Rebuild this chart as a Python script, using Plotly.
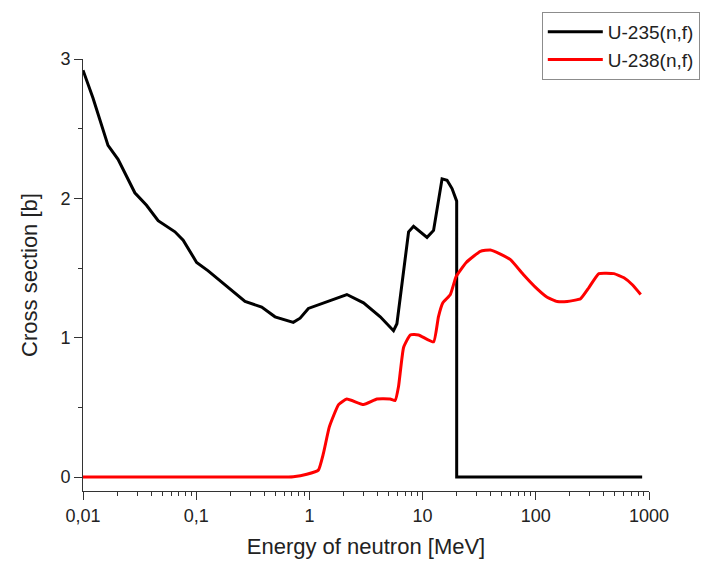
import plotly.graph_objects as go

# U-235 (n,f) cross section
energy_u235 = [0.01, 0.01225, 0.01663, 0.0204, 0.0287, 0.0364, 0.0461, 0.0649, 0.0767,
               0.1009, 0.1276, 0.1622, 0.2123, 0.270, 0.379, 0.497, 0.721, 0.828, 0.979,
               1.426, 2.143, 3.006, 4.227, 5.534, 5.93, 7.52, 8.32, 10.94, 12.50, 14.86,
               16.44, 18.20, 20, 20, 870]
sigma_u235 = [2.92, 2.72, 2.38, 2.28, 2.04, 1.95, 1.84, 1.76, 1.70,
              1.54, 1.48, 1.41, 1.33, 1.26, 1.22, 1.15, 1.11, 1.14, 1.21,
              1.26, 1.31, 1.25, 1.15, 1.05, 1.10, 1.76, 1.80, 1.72, 1.77, 2.14,
              2.13, 2.07, 1.98, 0, 0]

# U-238 (n,f) cross section
energy_u238 = [0.01, 0.03, 0.1, 0.3, 0.55, 0.72, 0.948, 1.20, 1.33, 1.50, 1.81, 2.14, 3.01,
               3.95, 5.17, 5.73, 6.13, 6.79, 7.78, 9.22, 12.5, 13.8, 15.1, 17.6, 19.8, 24.3,
               32.4, 39.7, 48.7, 59.7, 78.3, 102.8, 126, 154.6, 189.6, 248.7, 294.6, 361,
               490, 601, 713, 845]
sigma_u238 = [0, 0, 0, 0, 0, 0.003, 0.02, 0.05, 0.17, 0.36, 0.52, 0.56, 0.52,
              0.56, 0.56, 0.55, 0.65, 0.93, 1.02, 1.02, 0.97, 1.15, 1.25, 1.31, 1.44, 1.54,
              1.62, 1.63, 1.60, 1.56, 1.45, 1.35, 1.29, 1.26, 1.26, 1.28, 1.36, 1.46,
              1.46, 1.43, 1.38, 1.31]

x_tickvals = [0.01, 0.1, 1, 10, 100, 1000]
x_ticktext = ["0,01", "0,1", "1", "10", "100", "1000"]
y_tickvals = [0, 1, 2, 3]

FONT = "Liberation Sans, Arial, sans-serif"

fig = go.Figure()
fig.add_trace(go.Scatter(x=energy_u235, y=sigma_u235, mode="lines", name="U-235(n,f)",
                         line=dict(color="black", width=3)))
fig.add_trace(go.Scatter(x=energy_u238, y=sigma_u238, mode="lines", name="U-238(n,f)",
                         line=dict(color="#ff0000", width=3, shape="spline", smoothing=0.4)))

fig.update_layout(
    width=720, height=561,
    margin=dict(l=83, r=71, t=59, b=70, autoexpand=False),
    paper_bgcolor="white", plot_bgcolor="white",
    font=dict(family=FONT, color="#222"),
    showlegend=True,
    legend=dict(x=0.8106, y=1.109, xanchor="left", yanchor="top",
                bordercolor="#8c8c8c", borderwidth=1, bgcolor="white",
                font=dict(size=19, family=FONT, color="#222"),
                itemwidth=55, tracegroupgap=0),
    xaxis=dict(
        type="log", range=[-2, 3], automargin=False,
        tickvals=x_tickvals, ticktext=x_ticktext,
        showline=True, linecolor="#333", linewidth=1,
        ticks="outside", ticklen=8, tickcolor="#333", tickwidth=1,
        minor=dict(ticks="outside", ticklen=4, tickcolor="#333", dtick="D1", showgrid=False),
        showgrid=False, zeroline=False,
        tickfont=dict(size=18, family=FONT, color="#222"),
        title=dict(text="Energy of neutron [MeV]", font=dict(size=22, family=FONT, color="#222"),
                   standoff=14),
    ),
    yaxis=dict(
        range=[-0.1, 3], automargin=False,
        tickvals=y_tickvals,
        showline=True, linecolor="#333", linewidth=1,
        ticks="outside", ticklen=8, tickcolor="#333", tickwidth=1,
        minor=dict(ticks="outside", ticklen=4, tickcolor="#333", dtick=0.5, showgrid=False),
        showgrid=False, zeroline=False,
        tickfont=dict(size=18, family=FONT, color="#222"),
        title=dict(text="Cross section [b]", font=dict(size=22, family=FONT, color="#222"),
                   standoff=16),
    ),
)

fig.write_html("out.html")
